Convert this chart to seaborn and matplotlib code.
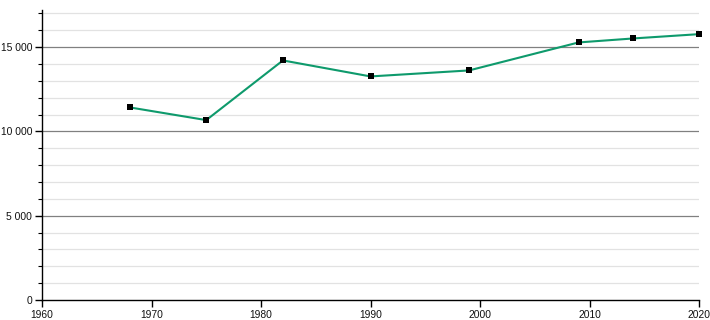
import matplotlib
matplotlib.use("Agg")
import matplotlib.pyplot as plt
import seaborn as sns
import pandas as pd
from matplotlib.ticker import FuncFormatter, MultipleLocator

years = [1968, 1975, 1982, 1990, 1999, 2009, 2014, 2020]
population = [11424, 10670, 14209, 13260, 13616, 15276, 15513, 15768]
x_ticks = [1960, 1970, 1980, 1990, 2000, 2010, 2020]
y_ticks = [0, 5000, 10000, 15000]

df = pd.DataFrame({"year": years, "pop": population})

sns.set_style("white")
plt.rcParams["font.family"] = ["Liberation Sans", "DejaVu Sans"]

fig = plt.figure(figsize=(7.1, 3.2), dpi=100)
ax = fig.add_axes([42 / 710, 20 / 320, (699 - 42) / 710, 290 / 320])

ax.set_xlim(1960, 2020)
ax.set_ylim(0, 17200)

for v in range(1000, 17001, 1000):
    if v % 5000 == 0:
        ax.axhline(v, color="#808080", lw=0.9, zorder=1)
    else:
        ax.axhline(v, color="#e2e2e2", lw=0.9, zorder=0)

sns.lineplot(data=df, x="year", y="pop", ax=ax, color="#0e9a6c", lw=1.5,
             marker="s", markersize=4.2, markerfacecolor="black",
             markeredgewidth=0, zorder=3, clip_on=False)

ax.set_xticks(x_ticks)
ax.set_yticks(y_ticks)
ax.yaxis.set_minor_locator(MultipleLocator(1000))
ax.yaxis.set_major_formatter(FuncFormatter(lambda v, p: f"{int(v):,}".replace(",", " ")))
ax.tick_params(axis="x", which="major", bottom=True, direction="out", length=5, width=1,
               color="black", labelsize=7.4, pad=2, labelcolor="#111111")
ax.tick_params(axis="y", which="major", left=True, direction="out", length=5, width=1,
               color="black", labelsize=7.4, pad=2, labelcolor="#111111")
ax.tick_params(axis="y", which="minor", left=True, direction="out", length=3, width=0.8,
               color="black")
ax.set_xlabel("")
ax.set_ylabel("")
for s in ["top", "right"]:
    ax.spines[s].set_visible(False)
for s in ["left", "bottom"]:
    ax.spines[s].set_color("black")
    ax.spines[s].set_linewidth(1)

fig.savefig("out.png", dpi=100)
